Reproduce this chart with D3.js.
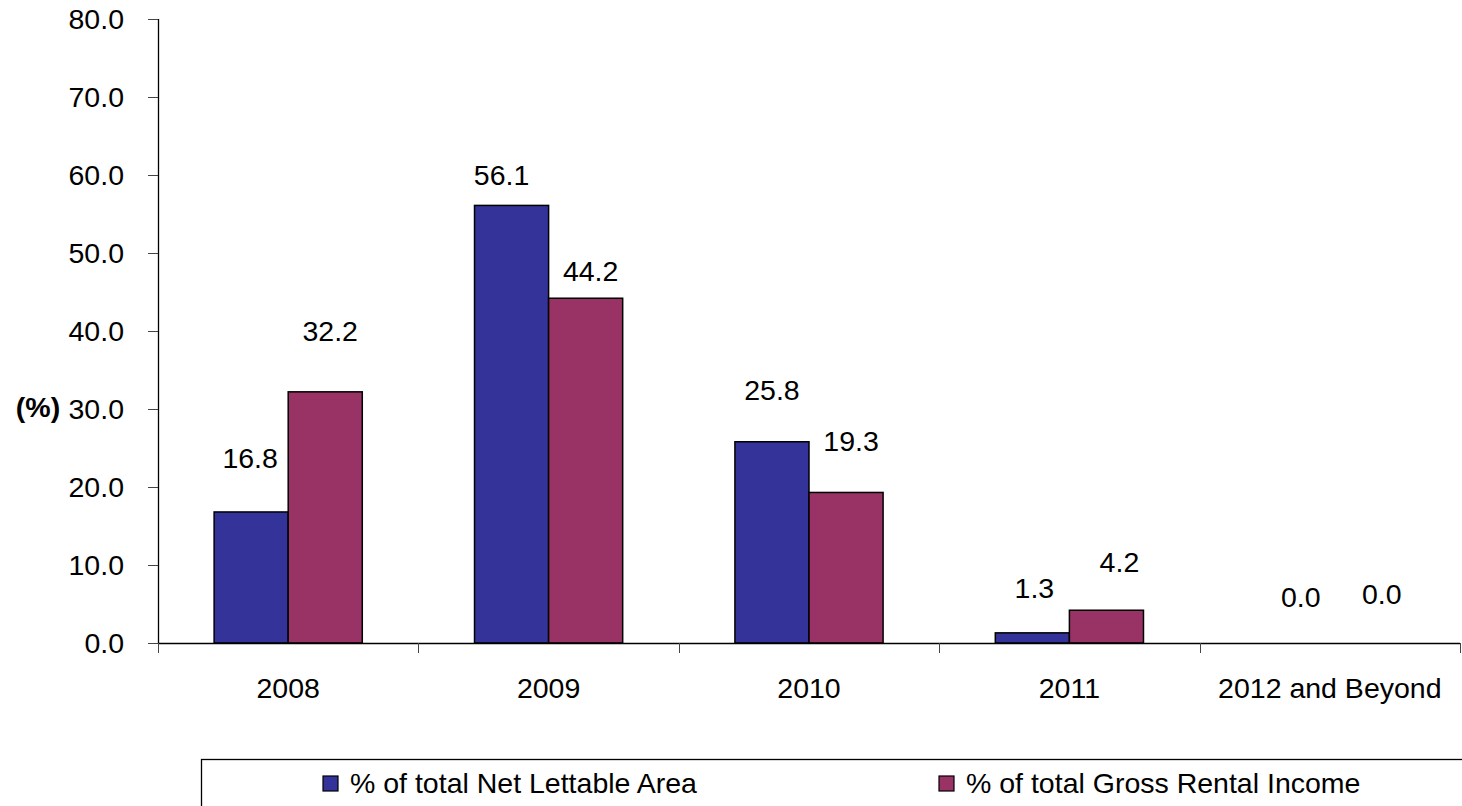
<!DOCTYPE html>
<html>
<head>
<meta charset="utf-8">
<script src="https://cdn.jsdelivr.net/npm/d3@7"></script>
<style>
  html, body { margin: 0; padding: 0; background: #fff; }
  svg { display: block; font-family: "Liberation Sans", Arial, sans-serif; }
</style>
</head>
<body>
<svg id="chart" width="1462" height="806"></svg>
<script>
// ---- data ----
const categories = ["2008", "2009", "2010", "2011", "2012 and Beyond"];
const seriesNames = ["% of total Net Lettable Area", "% of total Gross Rental Income"];
const netLettableArea = [16.8, 56.1, 25.8, 1.3, 0.0];
const grossRentalIncome = [32.2, 44.2, 19.3, 4.2, 0.0];
const yTicks = [0, 10, 20, 30, 40, 50, 60, 70, 80];
const yAxisTitle = "(%)";

(function () {
// ---- styles / layout ----
const colors = ["#333399", "#993366"];
const fontSize = 28.5;
// label placement tweaks (pixels) as in the source chart: [dx, lift above bar top]
const labelNudge = [
  [[-1, 54], [-10, 31], [0, 52], [2, 45], [8, 46]],
  [[5, 61], [5, 28], [5, 52], [13, 49], [15, 49]]
];

const svg = d3.select("#chart");
const pLeft = 158, pRight = 1460, pTop = 19, pBottom = 643;

const x0 = d3.scaleBand().domain(categories).range([pLeft, pRight]).padding(0);
const bw = x0.bandwidth();
const x1 = d3.scaleBand().domain([0, 1]).range([bw * 0.2155, bw * 0.7845]).padding(0);
const y = d3.scaleLinear().domain([0, 80]).range([pBottom, pTop]);

const series = [netLettableArea, grossRentalIncome];

// bars
const groups = svg.append("g").selectAll("g")
  .data(categories)
  .join("g")
  .attr("transform", d => `translate(${x0(d)},0)`);

groups.selectAll("rect")
  .data((c, i) => series.map((s, k) => ({ k, v: s[i], i })).filter(d => d.v > 0))
  .join("rect")
  .attr("x", d => x1(d.k))
  .attr("y", d => y(d.v))
  .attr("width", x1.bandwidth())
  .attr("height", d => y(0) - y(d.v))
  .attr("fill", d => colors[d.k])
  .attr("stroke", "#000")
  .attr("stroke-width", 1.5);

// value labels
groups.selectAll("text.val")
  .data((c, i) => series.map((s, k) => ({ k, v: s[i], i })))
  .join("text")
  .attr("class", "val")
  .attr("x", d => x1(d.k) + x1.bandwidth() / 2 + labelNudge[d.k][d.i][0])
  .attr("y", d => y(d.v) - labelNudge[d.k][d.i][1])
  .attr("dy", "0.36em")
  .attr("text-anchor", "middle")
  .attr("font-size", fontSize)
  .attr("fill", "#000")
  .text(d => d3.format(".1f")(d.v));

// y axis
const yAxis = svg.append("g")
  .attr("transform", `translate(${pLeft},0)`)
  .call(d3.axisLeft(y).tickValues(yTicks).tickFormat(d3.format(".1f")).tickSize(10).tickPadding(24));
yAxis.select(".domain").attr("stroke", "#000").attr("stroke-width", 1.3).attr("d", `M0.5,${pTop}V${pBottom}`);
yAxis.selectAll(".tick line").attr("stroke", "#444").attr("stroke-width", 1);
yAxis.selectAll(".tick text").attr("font-size", fontSize).attr("fill", "#000").attr("font-family", "Liberation Sans, Arial, sans-serif");

// x axis (labels at category centres)
const xAxis = svg.append("g")
  .attr("transform", `translate(0,${pBottom})`)
  .call(d3.axisBottom(x0).tickSize(0).tickPadding(35));
xAxis.select(".domain").attr("stroke", "#000").attr("stroke-width", 1.3).attr("d", `M${pLeft},0.5H${pRight}`);
xAxis.selectAll(".tick text").attr("font-size", fontSize).attr("fill", "#000").attr("font-family", "Liberation Sans, Arial, sans-serif");

// category boundary tick marks
const boundaries = categories.map(c => x0(c)).concat([x0(categories[categories.length - 1]) + bw]);
svg.append("g").selectAll("line")
  .data(boundaries)
  .join("line")
  .attr("x1", d => Math.round(d) + 0.5)
  .attr("x2", d => Math.round(d) + 0.5)
  .attr("y1", pBottom)
  .attr("y2", pBottom + 10)
  .attr("stroke", "#444")
  .attr("stroke-width", 1);

// y axis title
svg.append("text")
  .attr("x", 38)
  .attr("y", y(30) - 2)
  .attr("dy", "0.36em")
  .attr("text-anchor", "middle")
  .attr("font-size", fontSize)
  .attr("font-weight", "bold")
  .text(yAxisTitle);

// legend
const legend = svg.append("g");
legend.append("rect")
  .attr("x", 201.5).attr("y", 759.5)
  .attr("width", 1400).attr("height", 200)
  .attr("fill", "#fff").attr("stroke", "#000").attr("stroke-width", 1.3);
const legendX = [323, 939];
const items = legend.selectAll("g.item")
  .data(seriesNames)
  .join("g")
  .attr("class", "item")
  .attr("transform", (d, i) => `translate(${legendX[i]},0)`);
items.append("rect")
  .attr("x", 0).attr("y", 776)
  .attr("width", 15).attr("height", 15)
  .attr("fill", (d, i) => colors[i])
  .attr("stroke", "#000").attr("stroke-width", 1.2);
items.append("text")
  .attr("x", 27)
  .attr("y", 783)
  .attr("dy", "0.36em")
  .attr("font-size", fontSize)
  .attr("fill", "#000")
  .text(d => d);
})();
</script>
</body>
</html>
